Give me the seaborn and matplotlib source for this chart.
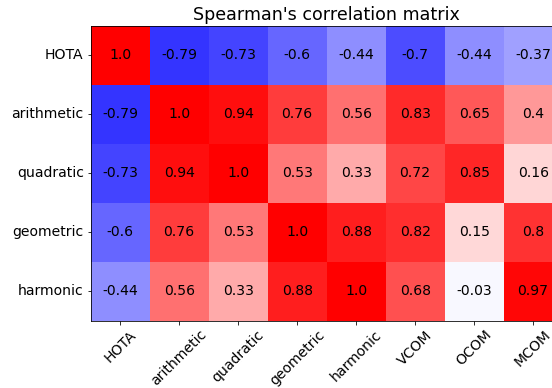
import numpy as np
import pandas as pd
import seaborn as sns
import matplotlib
matplotlib.use("Agg")
import matplotlib.pyplot as plt

rows = ["HOTA", "arithmetic", "quadratic", "geometric", "harmonic"]
cols = ["HOTA", "arithmetic", "quadratic", "geometric", "harmonic", "VCOM", "OCOM", "MCOM"]

hota = [1.0, -0.79, -0.73, -0.6, -0.44, -0.7, -0.44, -0.37]
arithmetic = [-0.79, 1.0, 0.94, 0.76, 0.56, 0.83, 0.65, 0.4]
quadratic = [-0.73, 0.94, 1.0, 0.53, 0.33, 0.72, 0.85, 0.16]
geometric = [-0.6, 0.76, 0.53, 1.0, 0.88, 0.82, 0.15, 0.8]
harmonic = [-0.44, 0.56, 0.33, 0.88, 1.0, 0.68, -0.03, 0.97]

df = pd.DataFrame([hota, arithmetic, quadratic, geometric, harmonic], index=rows, columns=cols)
labels = df.map(str).values

# rendered at 72 dpi so ticks and fonts keep their pixel sizes
fig = plt.figure(figsize=(552 / 72, 388 / 72), dpi=72)
ax = fig.add_axes([0.1643, 0.1735, 0.855, 0.7603])
sns.heatmap(df, ax=ax, cmap="bwr", vmin=-1, vmax=1, cbar=False,
            annot=labels, fmt="", annot_kws={"color": "black", "fontsize": 14})
for s in ax.spines.values():
    s.set_visible(True)
    s.set_linewidth(0.8)
ax.tick_params(axis="both", length=3.5, width=0.8, labelsize=14)
ax.set_xticklabels(cols, rotation=45, ha="center")
ax.set_yticklabels(rows, rotation=0)
ax.set_title("Spearman's correlation matrix", fontsize=17.5)
fig.savefig("out.png", dpi=72)
